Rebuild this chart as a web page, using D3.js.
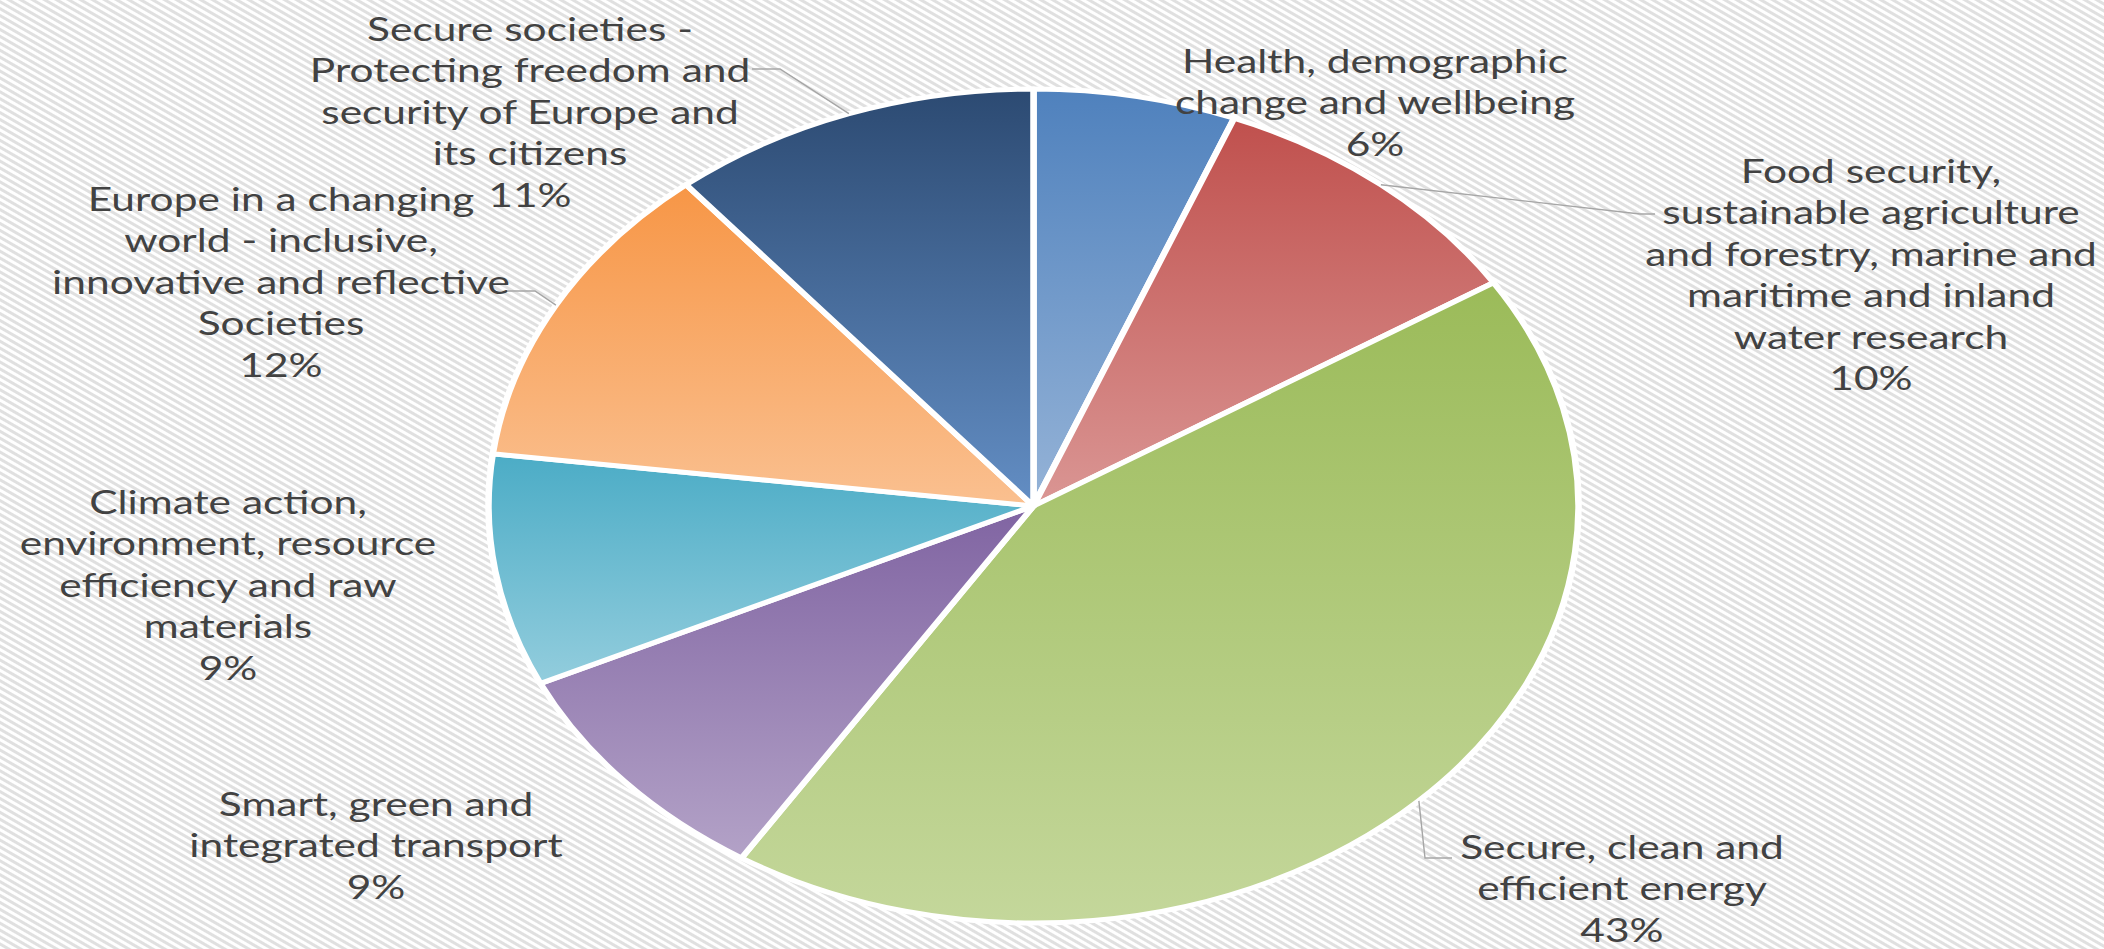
<!DOCTYPE html>
<html>
<head>
<meta charset="utf-8">
<script src="https://cdn.jsdelivr.net/npm/d3@7/dist/d3.min.js"></script>
<style>
  html, body { margin: 0; padding: 0; background: #ffffff; }
  svg { display: block; }
</style>
</head>
<body>
<svg id="chart" width="2104" height="949"></svg>
<script>
// Horizon 2020 societal challenges: share of funding by challenge
const categories = [
  "Health, demographic\nchange and wellbeing",
  "Food security,\nsustainable agriculture\nand forestry, marine and\nmaritime and inland\nwater research",
  "Secure, clean and\nefficient energy",
  "Smart, green and\nintegrated transport",
  "Climate action,\nenvironment, resource\nefficiency and raw\nmaterials",
  "Europe in a changing\nworld - inclusive,\ninnovative and reflective\nSocieties",
  "Secure societies -\nProtecting freedom and\nsecurity of Europe and\nits citizens"
];
const shares = [6, 10, 43, 9, 9, 12, 11];

// slice palette: gradient from base (top) to tint (bottom)
const baseColors = ["#4F81BD", "#C0504D", "#9BBB59", "#8064A2", "#4BACC6", "#F79646", "#2C4A72"];
const tintColors = ["#95B3D7", "#DA9694", "#C4D79B", "#B3A2C7", "#93CDDD", "#FAC090", "#638EC4"];

// label anchors (page coordinates: centre x, first line centre y)
const labelAnchors = [
  [1375, 62], [1871, 172], [1622, 848], [376, 805], [228, 503], [281, 200], [530, 30]
];
// leader lines: elbow and end point in page coordinates
const leaders = [
  null,
  [[1640, 214], [1655, 214]],
  [[1425, 858], [1452, 858]],
  null,
  null,
  [[535, 291], [507, 291]],
  [[780, 69], [752, 69]]
];

const W = 2104, H = 949;
const cx = 1033.5, cy = 506;
const R = 417;
const SX = 545 / 417;          // horizontal stretch of the whole plot
const lineH = 41.5;

const svg = d3.select("#chart");
const defs = svg.append("defs");

// diagonal hatched background
const pat = defs.append("pattern")
  .attr("id", "hatch")
  .attr("patternUnits", "userSpaceOnUse")
  .attr("width", 20).attr("height", 6)
  .attr("patternTransform", "rotate(30)");
pat.append("rect").attr("width", 20).attr("height", 6).attr("fill", "#ffffff");
pat.append("rect").attr("width", 20).attr("height", 3).attr("fill", "#e0e0e0");

svg.append("rect").attr("width", W).attr("height", H).attr("fill", "url(#hatch)");

baseColors.forEach((c, i) => {
  const g = defs.append("linearGradient")
    .attr("id", "grad" + i)
    .attr("x1", 0).attr("y1", 0).attr("x2", 0).attr("y2", 1);
  g.append("stop").attr("offset", "0%").attr("stop-color", c);
  g.append("stop").attr("offset", "100%").attr("stop-color", tintColors[i]);
});

const data = categories.map((c, i) => ({ name: c, value: shares[i], i }));
const pie = d3.pie().sort(null).value(d => d.value);
const arcs = pie(data);
const arc = d3.arc().innerRadius(0).outerRadius(R);

const plot = svg.append("g")
  .attr("transform", `translate(${cx},${cy}) scale(${SX},1)`);

plot.selectAll("path.slice")
  .data(arcs)
  .join("path")
  .attr("class", "slice")
  .attr("d", arc)
  .attr("fill", d => `url(#grad${d.data.i})`)
  .attr("stroke", "#ffffff")
  .attr("stroke-width", 5)
  .attr("stroke-linejoin", "round");

// leader lines, drawn in page coordinates
const toPage = (x, y) => [cx + x * SX, cy + y];
arcs.forEach(d => {
  const l = leaders[d.data.i];
  if (!l) return;
  const a = (d.startAngle + d.endAngle) / 2;
  const start = toPage(R * Math.sin(a), -R * Math.cos(a));
  svg.append("path")
    .attr("d", d3.line()([start, l[0], l[1]]))
    .attr("fill", "none")
    .attr("stroke", "#a6a6a6")
    .attr("stroke-width", 1.4);
});

// data labels, stretched with the plot
const labels = plot.selectAll("text.lbl")
  .data(arcs)
  .join("text")
  .attr("class", "lbl")
  .attr("text-anchor", "middle")
  .attr("font-family", "Lato, 'Open Sans', sans-serif")
  .attr("font-size", 32.5)
  .attr("fill", "#424242");

labels.each(function (d) {
  const [ax, ay] = labelAnchors[d.data.i];
  const x = (ax - cx) / SX;
  const lines = d.data.name.split("\n").concat([d.data.value + "%"]);
  d3.select(this).selectAll("tspan")
    .data(lines)
    .join("tspan")
    .attr("x", x)
    .attr("y", (t, k) => ay - cy + k * lineH)
    .attr("dy", "0.33em")
    .text(t => t);
});
</script>
</body>
</html>
